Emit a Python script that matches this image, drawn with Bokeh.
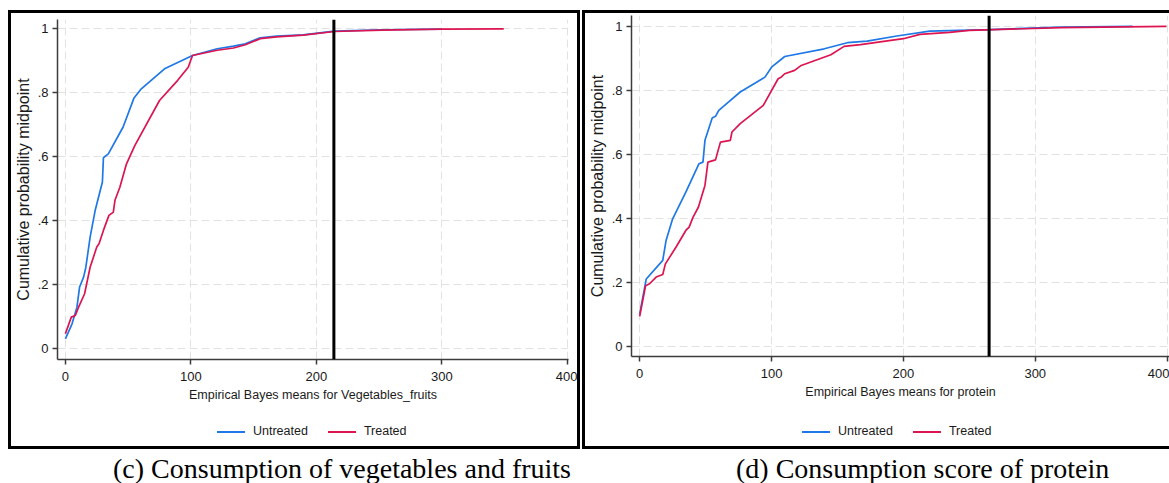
from bokeh.plotting import figure
from bokeh.models import FixedTicker, Span, ColumnDataSource, Range1d, Div
from bokeh.layouts import row, column
from bokeh.embed import file_html
from bokeh.resources import INLINE

# ---------------- data ----------------
veg_untreated_x = [0, 5.3, 9.2, 11.3, 14.5, 16.3, 19.7, 23.7, 29.5, 30.3, 34.2, 46, 54.7,
                   60.5, 79, 101.3, 121, 134, 143.4, 155.3, 168.4, 189.5, 214.4, 252.6, 300]
veg_untreated_y = [0.031, 0.078, 0.13, 0.193, 0.224, 0.255, 0.349, 0.432, 0.521, 0.597, 0.609,
                   0.693, 0.784, 0.8125, 0.875, 0.9166, 0.9375, 0.946, 0.953, 0.972, 0.977,
                   0.981, 0.9925, 0.997, 0.999]
veg_treated_x = [0, 4.7, 7.9, 10.5, 15.3, 19.7, 25, 26.8, 30.3, 34.7, 38.2, 39.5, 43.4, 48.7,
                 55.3, 75, 89.5, 97.9, 101.3, 121, 134, 143.4, 155.3, 168.4, 189.5, 214.4,
                 252.6, 300, 349.4]
veg_treated_y = [0.047, 0.099, 0.104, 0.13, 0.172, 0.255, 0.318, 0.328, 0.37, 0.417, 0.427,
                 0.464, 0.505, 0.578, 0.635, 0.776, 0.839, 0.880, 0.9166, 0.933, 0.94, 0.95,
                 0.969, 0.975, 0.98, 0.9915, 0.996, 0.999, 1.0]

prot_untreated_x = [0, 5, 17.5, 20, 25, 35, 45, 48, 49.5, 55, 57.5, 60, 67.5, 76.25, 95, 100,
                    110, 140, 157.5, 172.5, 195, 220, 265, 320, 373.8]
prot_untreated_y = [0.102, 0.211, 0.269, 0.331, 0.399, 0.482, 0.571, 0.576, 0.644, 0.714,
                    0.719, 0.7375, 0.764, 0.795, 0.8415, 0.8725, 0.906, 0.93, 0.949, 0.954,
                    0.97, 0.985, 0.99, 0.998, 1.0]
prot_treated_x = [0, 4.5, 7.5, 12.5, 17.5, 19.5, 27.5, 35, 37.5, 40.5, 44.5, 49.5, 51.75, 57.5,
                  61.25, 68.75, 70, 76.25, 93.75, 105, 107.5, 110, 117.5, 122.5, 145, 155,
                  167.5, 200, 212.5, 235, 250, 320, 399.5]
prot_treated_y = [0.094, 0.19, 0.196, 0.217, 0.225, 0.258, 0.31, 0.3625, 0.373, 0.404, 0.435,
                  0.503, 0.576, 0.583, 0.6385, 0.644, 0.67, 0.696, 0.753, 0.8365, 0.842, 0.852,
                  0.8625, 0.878, 0.9115, 0.9375, 0.943, 0.9615, 0.975, 0.981, 0.9875, 0.996, 1.0]

cutoff_veg = 214
cutoff_protein = 265

x_ticks = [0, 100, 200, 300, 400]
y_ticks = [0, 0.2, 0.4, 0.6, 0.8, 1.0]
y_tick_labels = ["0", ".2", ".4", ".6", ".8", "1"]
series_labels = ["Untreated", "Treated"]
x_titles = ["Empirical Bayes means for Vegetables_fruits", "Empirical Bayes means for protein"]
y_title = "Cumulative probability midpoint"
captions = ["(c) Consumption of vegetables and fruits", "(d) Consumption score of protein"]

# ---------------- style ----------------
BLUE = "#1e78e6"
RED = "#dc1450"
AXIS_COLOR = "#3c3c3c"
GRID_COLOR = "#e2e2e2"
TXT = "#1a1a1a"


def make_panel(ux, uy, tx, ty, cutoff, x_title, cfg):
    p = figure(width=cfg["width"], height=395, output_backend="svg", toolbar_location=None,
               x_range=Range1d(*cfg["xr"]), y_range=Range1d(*cfg["yr"]),
               min_border_left=cfg["mbl"], min_border_right=cfg["mbr"],
               min_border_top=cfg["mbt"], min_border_bottom=cfg["mbb"])
    p.title.visible = False
    p.outline_line_color = None

    p.xaxis.ticker = FixedTicker(ticks=x_ticks)
    p.yaxis.ticker = FixedTicker(ticks=y_ticks)
    p.yaxis.major_label_overrides = {t: lab for t, lab in zip(y_ticks, y_tick_labels)}
    p.grid.grid_line_color = GRID_COLOR
    p.grid.grid_line_dash = "8 4"

    p.axis.axis_line_color = AXIS_COLOR
    p.axis.axis_line_width = 1.5
    p.axis.major_tick_line_color = AXIS_COLOR
    p.axis.major_tick_line_width = 1.5
    p.axis.major_tick_out = 5
    p.axis.major_tick_in = 0
    p.axis.minor_tick_line_color = None
    p.axis.major_label_text_font_size = "13px"
    p.axis.major_label_text_color = TXT
    p.axis.axis_label_text_font_style = "normal"
    p.axis.axis_label_text_color = TXT

    p.xaxis.axis_label = x_title
    p.xaxis.axis_label_text_font_size = "12.5px"
    p.xaxis.major_label_standoff = 7
    p.xaxis.axis_label_standoff = 4
    p.yaxis.axis_label = y_title
    p.yaxis.axis_label_text_font_size = "16px"
    p.yaxis.major_label_standoff = 4
    p.yaxis.axis_label_standoff = 3

    src_u = ColumnDataSource(data=dict(x=ux, y=uy))
    src_t = ColumnDataSource(data=dict(x=tx, y=ty))
    p.line("x", "y", source=src_u, line_color=BLUE, line_width=1.7)
    p.line("x", "y", source=src_t, line_color=RED, line_width=1.7)

    p.add_layout(Span(location=cutoff, dimension="height", line_color="black", line_width=3))
    return p


def legend_div(width, pad_left):
    sample = ("<span style='display:inline-block;width:28px;height:0;border-top:2px solid {c};"
              "vertical-align:middle;margin:0 8px 0 {m}px'></span>")
    html = ("<div style='padding-left:{pl}px;padding-top:16px;white-space:nowrap;"
            "line-height:15px'>".format(pl=pad_left)
            + sample.format(c=BLUE, m=0) + series_labels[0]
            + sample.format(c=RED, m=20) + series_labels[1] + "</div>")
    return Div(text=html, width=width, height=38, margin=(0, 0, 0, 0),
               styles={"font-family": "Liberation Sans", "font-size": "12.5px", "color": TXT})


cfg_left = dict(width=566, xr=(-6.3, 401.0), yr=(-0.0334, 1.029),
                mbl=41, mbr=9, mbt=6, mbb=49)
cfg_right = dict(width=584, xr=(-6.2, 401.8), yr=(-0.03125, 1.034),
                 mbl=40, mbr=0, mbt=2, mbb=52)

p1 = make_panel(veg_untreated_x, veg_untreated_y, veg_treated_x, veg_treated_y,
                cutoff_veg, x_titles[0], cfg_left)
p2 = make_panel(prot_untreated_x, prot_untreated_y, prot_treated_x, prot_treated_y,
                cutoff_protein, x_titles[1], cfg_right)

box_style = {"outline": "3px solid black"}
inner1 = column(p1, legend_div(566, 206), margin=(13, 0, 0, 11), styles=box_style)
inner2 = column(p2, legend_div(584, 217), margin=(13, 0, 0, 8), styles=box_style)

cap_style = {"font-family": "Liberation Serif", "font-size": "28px", "line-height": "28px",
             "color": "black", "white-space": "nowrap", "overflow": "hidden"}
c1 = Div(text=captions[0], width=462, height=28, margin=(9, 0, 0, 113), styles=cap_style)
c2 = Div(text=captions[1], width=420, height=28, margin=(9, 0, 0, 159), styles=cap_style)

layout = row(column(inner1, c1), column(inner2, c2))
open("out.html", "w").write(file_html(layout, INLINE))
